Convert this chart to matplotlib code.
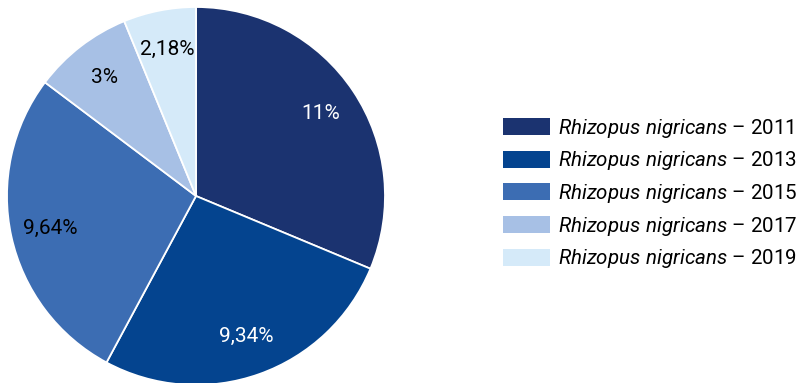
import matplotlib.pyplot as plt
from matplotlib.patches import Patch
import numpy as np

plt.rcParams['font.family'] = ['Roboto', 'DejaVu Sans']
plt.rcParams['mathtext.fontset'] = 'custom'
plt.rcParams['mathtext.rm'] = 'Roboto'
plt.rcParams['mathtext.it'] = 'Roboto:italic'

# data
years = ['2011', '2013', '2015', '2017', '2019']
values = [11, 9.34, 9.64, 3, 2.18]
value_labels = ['11%', '9,34%', '9,64%', '3%', '2,18%']
colors = ['#1b3370', '#04448f', '#3c6db3', '#a7c0e5', '#d5eaf9']
text_colors = ['white', 'white', 'black', 'black', 'black']

fig = plt.figure(figsize=(8.03, 3.83), dpi=100)
ax = fig.add_axes([7 / 803, -2 / 383, 378 / 803, 378 / 383])

wedges, _ = ax.pie(values, colors=colors, startangle=90, counterclock=False,
                   wedgeprops=dict(edgecolor='white', linewidth=1.3))
ax.set_xlim(-1, 1)
ax.set_ylim(-1, 1)
ax.set_aspect('equal')

# value labels inside the slices
for w, lab, tc in zip(wedges, value_labels, text_colors):
    mid = np.deg2rad((w.theta1 + w.theta2) / 2)
    ax.text(0.79 * np.cos(mid), 0.79 * np.sin(mid), lab, color=tc,
            fontsize=15, ha='center', va='center')

handles = [Patch(facecolor=c, edgecolor='none') for c in colors]
labels = [r'$\mathit{Rhizopus\ nigricans}$ – ' + y for y in years]
fig.legend(handles, labels, loc='center left', bbox_to_anchor=(503 / 803, 0.495),
           frameon=False, fontsize=14.8, handlelength=2.3, handleheight=0.88,
           labelspacing=0.47, handletextpad=0.4, borderpad=0, borderaxespad=0)

fig.savefig('out.png', dpi=100)
